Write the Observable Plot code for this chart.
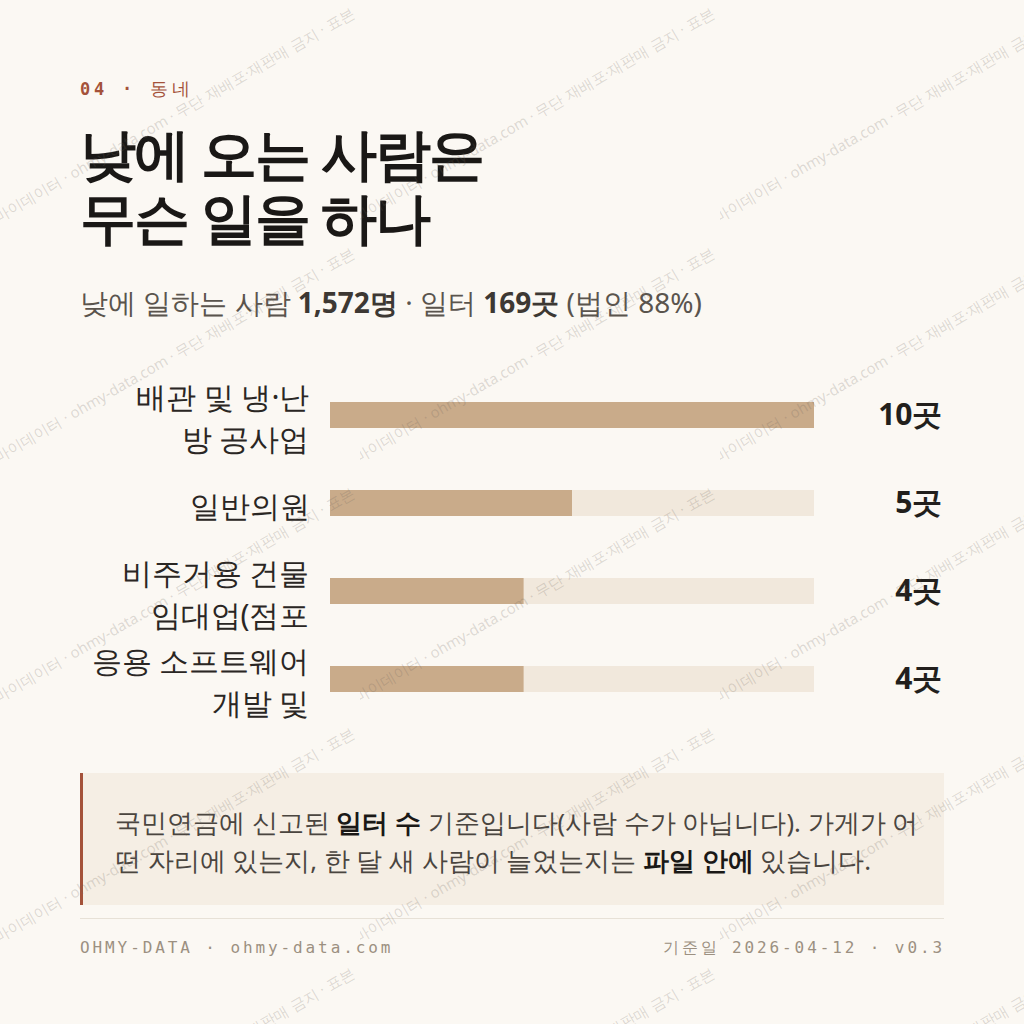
<!DOCTYPE html>
<html><head><meta charset="utf-8">
<script src="https://cdn.jsdelivr.net/npm/d3@7"></script>
<script src="https://cdn.jsdelivr.net/npm/@observablehq/plot@0.6"></script>
<style>
html,body{margin:0;padding:0;background:#fbf8f3;}
body{width:1024px;height:1024px;position:relative;overflow:hidden;font-family:"Noto Sans",sans-serif;}
.abs{position:absolute;}
#kicker{left:80px;top:79px;font-family:"DejaVu Sans Mono",monospace;font-size:17px;line-height:20px;letter-spacing:3.8px;color:#a4523a;white-space:nowrap;}
#kicker b{font-weight:700;}
#kicker span{font-size:18px;}
#title{left:80px;top:120px;margin:0;font-size:56px;line-height:64px;font-weight:700;letter-spacing:-2px;color:#1a1816;white-space:nowrap;}
#subtitle{left:80px;top:284px;font-size:28px;line-height:36px;color:#5a544d;white-space:nowrap;}
#subtitle b{color:#3d3833;font-weight:700;}
#chart{left:80px;top:370px;}
#note{left:80px;top:773px;width:864px;height:132px;box-sizing:border-box;background:#f5eee4;border-left:3px solid #a4523a;padding:30px 20px 0 32px;font-size:25.5px;line-height:38px;color:#4a453f;}
#note b{color:#1a1816;font-weight:700;}
#rule{left:80px;top:918px;width:864px;height:1px;background:#e7e1d7;}
.foot{top:938px;font-family:"DejaVu Sans Mono",monospace;font-size:16px;line-height:20px;letter-spacing:2.9px;color:#9c9081;white-space:nowrap;}
#footL{left:80px;}
#footR{right:79px;}
#wm{left:0;top:0;width:1024px;height:1024px;pointer-events:none;z-index:10;}
.tile{position:absolute;width:360px;height:240px;overflow:hidden;}
.tile span{position:absolute;left:-16px;top:209px;font-size:15px;line-height:15px;white-space:nowrap;color:rgba(110,100,90,0.22);transform:rotate(-30deg);transform-origin:16px 100%;}
</style></head>
<body>
<div id="kicker" class="abs"><b>04 ·</b> <span>동네</span></div>
<h1 id="title" class="abs">낮에 오는 사람은<br>무슨 일을 하나</h1>
<div id="subtitle" class="abs">낮에 일하는 사람 <b>1,572명</b> · 일터 <b>169곳</b> (법인 88%)</div>
<div id="chart" class="abs"></div>
<div id="note" class="abs">국민연금에 신고된 <b>일터 수</b> 기준입니다(사람 수가 아닙니다). 가게가 어떤 자리에 있는지, 한 달 새 사람이 늘었는지는 <b>파일 안에</b> 있습니다.</div>
<div id="rule" class="abs"></div>
<div id="footL" class="abs foot">OHMY-DATA · ohmy-data.com</div>
<div id="footR" class="abs foot">기준일 2026-04-12 · v0.3</div>
<div id="wm" class="abs"></div>
<script>
const categories = ["배관 및 냉·난방 공사업", "일반의원", "비주거용 건물 임대업(점포", "응용 소프트웨어 개발 및"];
const labelLines = ["배관 및 냉·난\n방 공사업", "일반의원", "비주거용 건물\n임대업(점포", "응용 소프트웨어\n개발 및"];
const counts = [10, 5, 4, 4];
const unit = "곳";
const watermarkText = "오마이데이터 · ohmy-data.com · 무단 재배포·재판매 금지 · 표본";

const rows = categories.map((c, i) => ({category: c, label: labelLines[i], count: counts[i]}));
const maxCount = d3.max(counts);

const chart = Plot.plot({
  width: 864, height: 354,
  marginLeft: 250, marginRight: 130, marginTop: 1, marginBottom: 1,
  style: {background: "transparent", fontFamily: "'Noto Sans', sans-serif", overflow: "visible"},
  x: {domain: [0, maxCount], axis: null},
  y: {domain: categories, axis: null, padding: 0},
  marks: [
    Plot.barX(rows, {y: "category", x1: 0, x2: maxCount, fill: "#f1e8dc", insetTop: 31, insetBottom: 31}),
    Plot.barX(rows, {y: "category", x: "count", fill: "#c9ab8a", insetTop: 31, insetBottom: 31}),
    Plot.text(rows, {y: "category", x: 0, text: "label", textAnchor: "end", dx: -21, fontSize: 30, lineHeight: 1.4, fill: "#2a2623"}),
    Plot.text(rows, {y: "category", frameAnchor: "right", text: d => d.count + unit, textAnchor: "end", dx: 128, fontSize: 30, fontWeight: 700, fill: "#221f1c"})
  ]
});
document.getElementById("chart").appendChild(chart);

const wm = document.getElementById("wm");
for (let c = 0; c < 3; c++) {
  for (let r = 0; r < 5; r++) {
    const t = document.createElement("div");
    t.className = "tile";
    t.style.left = (c * 360) + "px";
    t.style.top = (r * 240) + "px";
    const s = document.createElement("span");
    s.textContent = watermarkText;
    t.appendChild(s);
    wm.appendChild(t);
  }
}
</script>
</body></html>
